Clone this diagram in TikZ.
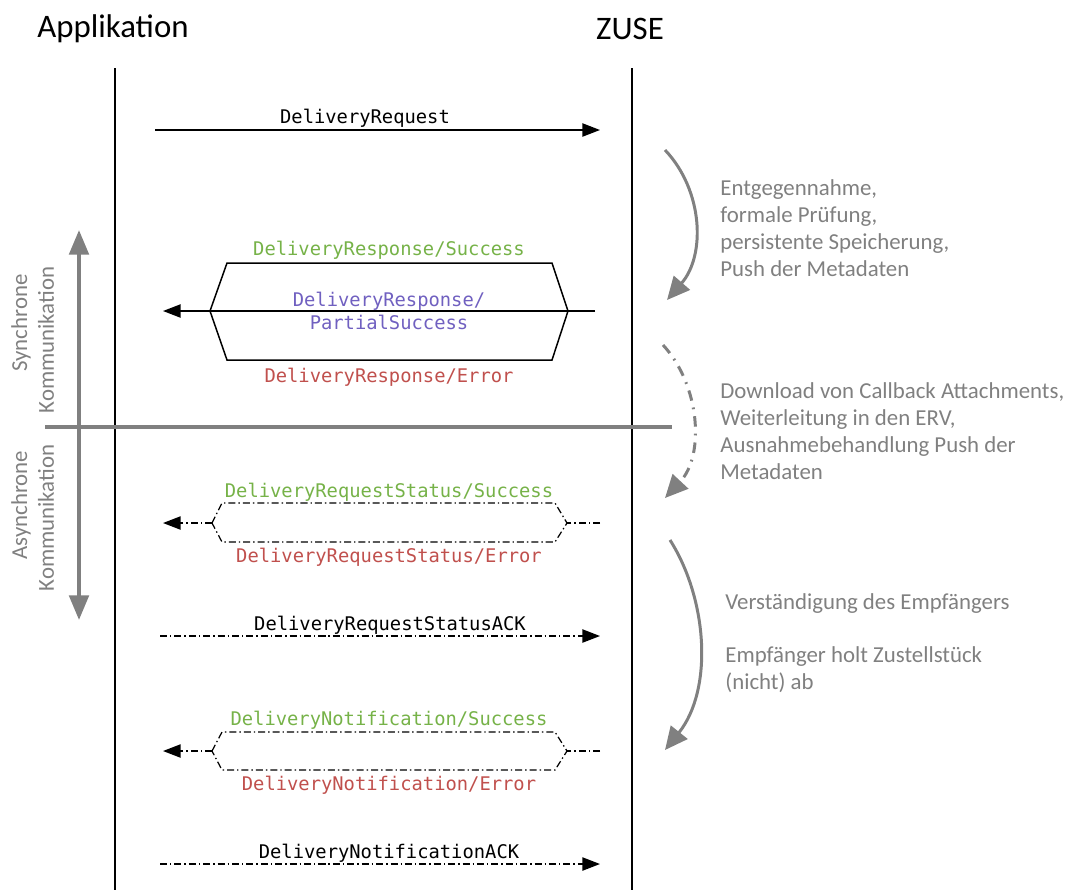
\documentclass[tikz,border=0pt]{standalone}
\usepackage{fontspec}
\setmainfont{Carlito}
\setmonofont{DejaVu Sans Mono}
\usetikzlibrary{arrows.meta}

\definecolor{okgreen}{RGB}{118,178,72}
\definecolor{partpurple}{RGB}{112,96,192}
\definecolor{errred}{RGB}{192,80,77}
\definecolor{notegray}{RGB}{128,128,128}

\tikzset{
  lifeline/.style={line width=1.1pt},
  msg/.style={line width=0.85pt,-{Triangle[length=10pt,width=7.5pt]}},
  asyncmsg/.style={msg,dash pattern=on 4pt off 1.7pt on 0.8pt off 1.7pt},
  outcome/.style={line width=0.85pt,line join=miter},
  asyncoutcome/.style={line width=0.7pt,dash pattern=on 4pt off 1.7pt on 0.8pt off 1.7pt},
  msglabel/.style={font=\ttfamily\fontsize{10.7}{13}\selectfont,inner sep=0pt},
  phasebar/.style={draw=notegray,line width=2.3pt,{Triangle[length=14pt,width=11pt]}-{Triangle[length=14pt,width=11pt]}},
  phaselabel/.style={text=notegray,rotate=90,font=\fontsize{13}{15}\selectfont,inner sep=0pt},
  step arrow/.style={draw=notegray,line width=1.7pt,-{Triangle[length=13pt,width=12pt]}},
  note/.style={text=notegray,align=left,anchor=west,font=\fontsize{13}{15.3}\selectfont,inner sep=0pt},
}

\begin{document}
\begin{tikzpicture}[x=0.02cm,y=-0.02cm]
  \useasboundingbox (0,0) rectangle (1070,890);

  %% partners and lifelines
  \node (app) at (113,29) [font=\fontsize{18.7}{22}\selectfont] {Applikation};
  \node (zuse) at (630,29) [font=\fontsize{18.7}{22}\selectfont] {ZUSE};
  \coordinate (app-top) at (115,68);
  \coordinate (app-end) at (115,890);
  \coordinate (zuse-top) at (632,68);
  \coordinate (zuse-end) at (632,890);
  \draw[lifeline] (app-top) -- (app-end);
  \draw[lifeline] (zuse-top) -- (zuse-end);

  %% sync / async split
  \coordinate (split-l) at (45,427);
  \coordinate (split-r) at (672,427);
  \draw[draw=notegray,line width=2.3pt] (split-l) -- (split-r);
  \coordinate (sync-tip) at (79,230);
  \coordinate (async-tip) at (79,620);
  \draw[phasebar] (sync-tip) -- (async-tip);
  \node (sync1) at (21,323) [phaselabel] {Synchrone};
  \node (sync2) at (46,340) [phaselabel] {Kommunikation};
  \node (async1) at (21,505) [phaselabel] {Asynchrone};
  \node (async2) at (46,518) [phaselabel] {Kommunikation};

  %% DeliveryRequest
  \coordinate (req-a) at (155,130);
  \coordinate (req-z) at (600,130);
  \draw[msg] (req-a) -- (req-z);
  \node (req) at (365,118) [msglabel] {DeliveryRequest};

  %% DeliveryResponse
  \draw[outcome] (210,311) -- (227,263) -- (552,263) -- (568,311) -- (552,360) -- (227,360) -- cycle;
  \coordinate (resp-z) at (595,311);
  \coordinate (resp-a) at (163,311);
  \draw[msg] (resp-z) -- (resp-a);
  \node (resp-ok) at (389,250) [msglabel,text=okgreen] {DeliveryResponse/Success};
  \node (resp-part) at (389,311) [msglabel,text=partpurple,align=center,font=\ttfamily\fontsize{10.7}{13}\selectfont] {DeliveryResponse/\\PartialSuccess};
  \node (resp-err) at (389,377) [msglabel,text=errred] {DeliveryResponse/Error};

  %% DeliveryRequestStatus
  \coordinate (stat-l) at (212,523);
  \coordinate (stat-r) at (567,523);
  \draw[asyncoutcome] (stat-l) -- (222,503) -- (555,503) -- (stat-r) -- (555,542) -- (222,542) -- cycle;
  \coordinate (stat-z) at (600,523);
  \coordinate (stat-a) at (163,523);
  \draw[asyncoutcome] (stat-z) -- (stat-r);
  \draw[asyncmsg] (stat-l) -- (stat-a);
  \node (stat-ok) at (389,492) [msglabel,text=okgreen] {DeliveryRequestStatus/Success};
  \node (stat-err) at (389,557) [msglabel,text=errred] {DeliveryRequestStatus/Error};

  %% DeliveryRequestStatusACK
  \coordinate (sack-a) at (160,636);
  \coordinate (sack-z) at (600,636);
  \draw[asyncmsg] (sack-a) -- (sack-z);
  \node (sack) at (390,625) [msglabel] {DeliveryRequestStatusACK};

  %% DeliveryNotification
  \coordinate (note-l) at (212,751);
  \coordinate (note-r) at (567,751);
  \draw[asyncoutcome] (note-l) -- (222,732) -- (555,732) -- (note-r) -- (555,770) -- (222,770) -- cycle;
  \coordinate (note-z) at (600,751);
  \coordinate (note-a) at (163,751);
  \draw[asyncoutcome] (note-z) -- (note-r);
  \draw[asyncmsg] (note-l) -- (note-a);
  \node (note-ok) at (389,720) [msglabel,text=okgreen] {DeliveryNotification/Success};
  \node (note-err) at (389,785) [msglabel,text=errred] {DeliveryNotification/Error};

  %% DeliveryNotificationACK
  \coordinate (nack-a) at (160,864);
  \coordinate (nack-z) at (600,864);
  \draw[asyncmsg] (nack-a) -- (nack-z);
  \node (nack) at (389,853) [msglabel] {DeliveryNotificationACK};

  %% processing steps on ZUSE side
  \coordinate (s1-a) at (665,150);
  \coordinate (s1-z) at (667,300);
  \draw[step arrow] (s1-a) .. controls (703,190) and (706,255) .. (s1-z);
  \coordinate (s2-a) at (663,345);
  \coordinate (s2-z) at (665,498);
  \draw[step arrow,dash pattern=on 6pt off 4pt on 1pt off 4pt] (s2-a) .. controls (700,385) and (705,455) .. (s2-z);
  \coordinate (s3-a) at (670,540);
  \coordinate (s3-z) at (665,750);
  \draw[step arrow] (s3-a) .. controls (708,600) and (713,690) .. (s3-z);

  \node (n1) at (720,228) [note] {Entgegennahme,\\formale Prüfung,\\persistente Speicherung,\\Push der Metadaten};
  \node (n2) at (720,431) [note] {Download von Callback Attachments,\\Weiterleitung in den ERV,\\Ausnahmebehandlung Push der\\Metadaten};
  \node (n3) at (725,643) [note] {Verständigung des Empfängers\\[15.3pt]Empfänger holt Zustellstück\\(nicht) ab};
\end{tikzpicture}
\end{document}
